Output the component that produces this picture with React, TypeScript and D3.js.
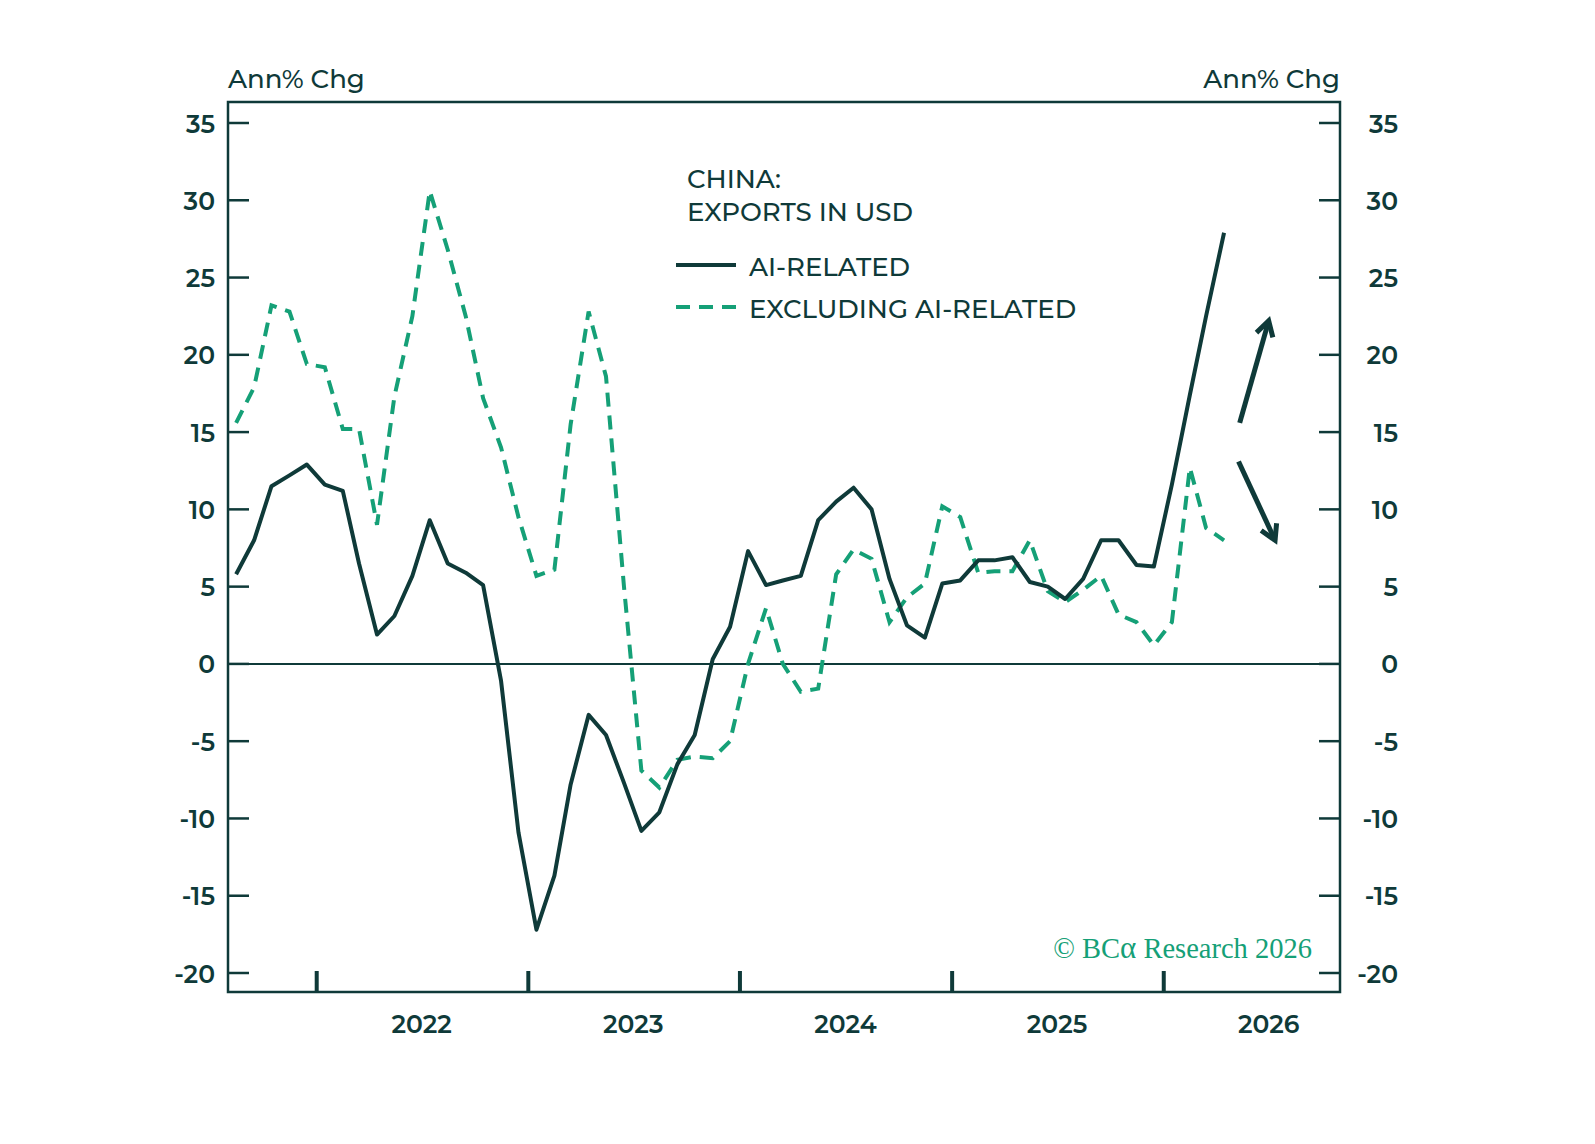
import React, { useEffect, useRef } from 'react';
import * as d3 from 'd3';

// Monthly series, Aug 2021 .. Apr 2026 (annual % change)
const startYear = 2021;
const startMonth = 7; // August (0-based)

const aiRelated = [
  5.8, 8.0, 11.5, 12.2, 12.9, 11.6, 11.2, 6.5, 1.9, 3.1, 5.7, 9.3, 6.5, 5.9, 5.1, -1.1, -10.9,
  -17.2, -13.7, -7.8, -3.3, -4.6, -7.7, -10.8, -9.6, -6.5, -4.6, 0.3, 2.4, 7.3, 5.1, 5.4, 5.7,
  9.3, 10.5, 11.4, 10.0, 5.5, 2.5, 1.7, 5.2, 5.4, 6.7, 6.7, 6.9, 5.3, 5.0, 4.2, 5.5, 8.0, 8.0,
  6.4, 6.3, 11.6, 17.4, 22.5, 27.9
];

const excludingAi = [
  15.6, 17.9, 23.2, 22.8, 19.4, 19.2, 15.2, 15.2, 9.0, 17.3, 22.5, 30.6, 26.8, 22.5, 17.2, 14.0,
  9.5, 5.7, 6.1, 15.5, 22.8, 18.6, 5.0, -6.9, -8.0, -6.2, -6.0, -6.1, -5.0, 0.0, 3.6, 0.0, -1.8,
  -1.6, 5.8, 7.4, 6.8, 2.7, 4.3, 5.2, 10.2, 9.5, 5.9, 6.0, 6.0, 8.0, 4.7, 4.0, 4.8, 5.7, 3.2,
  2.7, 1.2, 2.7, 12.7, 8.8, 8.0
];

const yTicks = [35, 30, 25, 20, 15, 10, 5, 0, -5, -10, -15, -20];
const yearLabels = [2022, 2023, 2024, 2025, 2026];

// annotation arrows: [start date, start value, tip date, tip value]
const arrows: [Date, number, Date, number][] = [
  [new Date(2026, 4, 12), 15.6, new Date(2026, 6, 1), 22.2],
  [new Date(2026, 4, 10), 13.1, new Date(2026, 6, 12), 8.0]
];

const DARK = '#0f3a39';
const GREEN = '#15a077';
const FONT = 'Montserrat, Inter, sans-serif';

const App: React.FC = () => {
  const svgRef = useRef<SVGSVGElement>(null);

  useEffect(() => {
    if (!svgRef.current) return;
    const svg = d3.select(svgRef.current);
    svg.selectAll('*').remove();

    const left = 228, right = 1340, top = 102, bottom = 992;

    const x = d3.scaleTime()
      .domain([new Date(2021, 7, 1), new Date(2026, 10, 1)])
      .range([left, right]);
    const y = d3.scaleLinear().domain([-20, 35]).range([973, 123]);

    const dates = aiRelated.map((_, i) => new Date(startYear, startMonth + i, 15));

    // frame
    svg.append('rect')
      .attr('x', left).attr('y', top)
      .attr('width', right - left).attr('height', bottom - top)
      .attr('fill', 'none').attr('stroke', DARK).attr('stroke-width', 2.5);

    // y ticks (both sides)
    yTicks.forEach(t => {
      svg.append('line')
        .attr('x1', left).attr('x2', left + 21)
        .attr('y1', y(t)).attr('y2', y(t))
        .attr('stroke', DARK).attr('stroke-width', 2.5);
      svg.append('line')
        .attr('x1', right - 21).attr('x2', right)
        .attr('y1', y(t)).attr('y2', y(t))
        .attr('stroke', DARK).attr('stroke-width', 2.5);
      svg.append('text')
        .attr('x', 215).attr('y', y(t)).attr('dy', '0.38em')
        .attr('text-anchor', 'end')
        .text(t);
      svg.append('text')
        .attr('x', 1398).attr('y', y(t)).attr('dy', '0.38em')
        .attr('text-anchor', 'end')
        .text(t);
    });

    // zero line
    svg.append('line')
      .attr('x1', left).attr('x2', right)
      .attr('y1', y(0)).attr('y2', y(0))
      .attr('stroke', DARK).attr('stroke-width', 2);

    // year ticks and labels
    yearLabels.forEach(yr => {
      const tx = x(new Date(yr, 0, 1));
      if (tx < right) {
        svg.append('line')
          .attr('x1', tx).attr('x2', tx)
          .attr('y1', bottom).attr('y2', bottom - 21)
          .attr('stroke', DARK).attr('stroke-width', 4);
      }
      svg.append('text')
        .attr('x', x(new Date(yr, 6, 1))).attr('y', 1033)
        .attr('text-anchor', 'middle')
        .text(yr);
    });

    svg.selectAll('text')
      .attr('font-family', FONT)
      .attr('font-size', 25)
      .attr('font-weight', 600)
      .attr('fill', DARK);

    const line = d3.line<number>()
      .x((_, i) => x(dates[i]))
      .y(d => y(d));

    svg.append('path')
      .attr('d', line(excludingAi))
      .attr('fill', 'none')
      .attr('stroke', GREEN)
      .attr('stroke-width', 4)
      .attr('stroke-dasharray', '14,9');

    svg.append('path')
      .attr('d', line(aiRelated))
      .attr('fill', 'none')
      .attr('stroke', DARK)
      .attr('stroke-width', 4)
      .attr('stroke-linejoin', 'round');

    // axis unit labels
    const label = (tx: number, ty: number, s: string, anchor = 'start') =>
      svg.append('text')
        .attr('x', tx).attr('y', ty)
        .attr('text-anchor', anchor)
        .attr('font-family', FONT)
        .attr('font-size', 26)
        .attr('font-weight', 500)
        .attr('fill', DARK)
        .text(s);

    label(228, 88, 'Ann% Chg');
    label(1340, 88, 'Ann% Chg', 'end');

    // title + legend
    label(687, 188, 'CHINA:');
    label(687, 221, 'EXPORTS IN USD');
    svg.append('line')
      .attr('x1', 676).attr('x2', 736).attr('y1', 265).attr('y2', 265)
      .attr('stroke', DARK).attr('stroke-width', 4);
    label(749, 276, 'AI-RELATED');
    svg.append('line')
      .attr('x1', 676).attr('x2', 736).attr('y1', 307).attr('y2', 307)
      .attr('stroke', GREEN).attr('stroke-width', 4)
      .attr('stroke-dasharray', '14,9');
    label(749, 318, 'EXCLUDING AI-RELATED');

    // arrows
    arrows.forEach(([d0, v0, d1, v1]) => {
      const x0 = x(d0), y0 = y(v0), x1 = x(d1), y1 = y(v1);
      const ang = Math.atan2(y1 - y0, x1 - x0);
      const len = 17, spread = Math.PI / 6;
      svg.append('line')
        .attr('x1', x0).attr('y1', y0).attr('x2', x1).attr('y2', y1)
        .attr('stroke', DARK).attr('stroke-width', 5);
      const p1 = [x1 - len * Math.cos(ang - spread), y1 - len * Math.sin(ang - spread)];
      const p2 = [x1 - len * Math.cos(ang + spread), y1 - len * Math.sin(ang + spread)];
      svg.append('path')
        .attr('d', `M${p1[0]},${p1[1]}L${x1},${y1}L${p2[0]},${p2[1]}`)
        .attr('fill', 'none')
        .attr('stroke', DARK)
        .attr('stroke-width', 5)
        .attr('stroke-linejoin', 'miter');
    });

    // copyright
    const cr = svg.append('text')
      .attr('x', 1312).attr('y', 958)
      .attr('text-anchor', 'end')
      .attr('font-family', '"Liberation Serif", "DejaVu Serif", serif')
      .attr('font-size', 28.5)
      .attr('fill', GREEN);
    cr.append('tspan').text('© BC');
    cr.append('tspan').attr('font-size', 31).text('α');
    cr.append('tspan').text(' Research 2026');
  }, []);

  return (
    <svg
      ref={svgRef}
      width={1595}
      height={1144}
      style={{ position: 'absolute', left: 0, top: 0, background: '#fff' }}
    />
  );
};

export default App;
